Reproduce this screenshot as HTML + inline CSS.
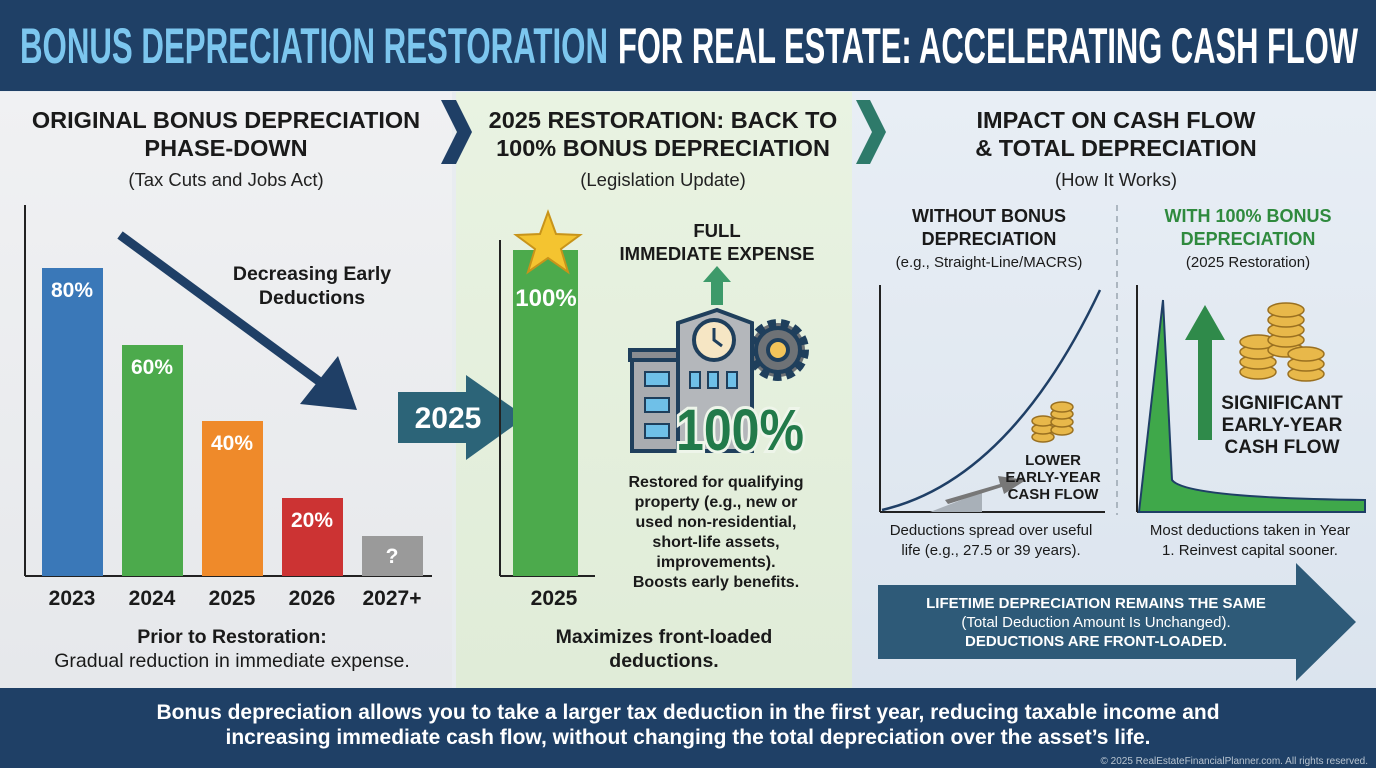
<!DOCTYPE html>
<html><head><meta charset="utf-8"><style>
html,body{margin:0;padding:0;width:1376px;height:768px;overflow:hidden;background:#fff}
svg{display:block;font-family:"Liberation Sans",sans-serif}
</style></head><body>
<svg width="1376" height="768" viewBox="0 0 1376 768" xmlns="http://www.w3.org/2000/svg">
<defs>
<linearGradient id="p1" x1="0" y1="0" x2="0" y2="1"><stop offset="0" stop-color="#f0f1f3"/><stop offset="1" stop-color="#e6e8eb"/></linearGradient>
<linearGradient id="p2" x1="0" y1="0" x2="0" y2="1"><stop offset="0" stop-color="#e9f3e2"/><stop offset="1" stop-color="#e0ecd8"/></linearGradient>
<linearGradient id="p3" x1="0" y1="0" x2="0" y2="1"><stop offset="0" stop-color="#e8eef5"/><stop offset="1" stop-color="#dbe4ee"/></linearGradient>
</defs>
<rect x="0" y="0" width="1376" height="768" fill="#e8ecf0"/>
<rect x="0" y="92" width="452" height="596" fill="url(#p1)"/>
<rect x="456" y="92" width="396" height="596" fill="url(#p2)"/>
<rect x="852" y="92" width="524" height="596" fill="url(#p3)"/>
<!-- header -->
<rect x="0" y="0" width="1376" height="91" fill="#1f4066"/>
<text x="20" y="63" font-size="50" font-weight="bold" fill="#7cc6ee" textLength="588" lengthAdjust="spacingAndGlyphs">BONUS DEPRECIATION RESTORATION</text>
<text x="618" y="63" font-size="50" font-weight="bold" fill="#ffffff" textLength="740" lengthAdjust="spacingAndGlyphs">FOR REAL ESTATE: ACCELERATING CASH FLOW</text>

<!-- panel 1 -->
<g font-weight="bold" fill="#1a1a1a" text-anchor="middle" font-size="23.5">
<text x="226" y="128">ORIGINAL BONUS DEPRECIATION</text>
<text x="226" y="156">PHASE-DOWN</text>
</g>
<text x="226" y="186" text-anchor="middle" font-size="18.5" fill="#222">(Tax Cuts and Jobs Act)</text>
<line x1="25" y1="205" x2="25" y2="576" stroke="#222" stroke-width="2"/>
<line x1="25" y1="576" x2="432" y2="576" stroke="#222" stroke-width="2"/>
<rect x="42" y="268" width="61" height="308" fill="#3a78b8"/>
<rect x="122" y="345" width="61" height="231" fill="#4caa4c"/>
<rect x="202" y="421" width="61" height="155" fill="#ef8a2a"/>
<rect x="282" y="498" width="61" height="78" fill="#cc3333"/>
<rect x="362" y="536" width="61" height="40" fill="#9a9a9a"/>
<g fill="#fff" font-weight="bold" font-size="21" text-anchor="middle">
<text x="72" y="297">80%</text><text x="152" y="374">60%</text><text x="232" y="450">40%</text><text x="312" y="527">20%</text><text x="392" y="563">?</text>
</g>
<g fill="#1a1a1a" font-weight="bold" font-size="21" text-anchor="middle">
<text x="72" y="605">2023</text><text x="152" y="605">2024</text><text x="232" y="605">2025</text><text x="312" y="605">2026</text><text x="392" y="605">2027+</text>
</g>
<line x1="120" y1="235" x2="320" y2="382" stroke="#1f3f66" stroke-width="9"/>
<polygon points="300,404 357,410 338,356" fill="#1f3f66"/>
<g font-weight="bold" font-size="19.5" fill="#1a1a1a" text-anchor="middle">
<text x="312" y="280">Decreasing Early</text><text x="312" y="304">Deductions</text>
</g>
<text x="232" y="643" text-anchor="middle" font-weight="bold" font-size="19.5" fill="#1a1a1a">Prior to Restoration:</text>
<text x="232" y="667" text-anchor="middle" font-size="19.5" fill="#1a1a1a">Gradual reduction in immediate expense.</text>

<!-- chevrons -->
<polygon points="441,100 456,100 472,132 456,164 441,164 457,132" fill="#1f3f66"/>
<polygon points="856,100 870,100 886,132 870,164 856,164 872,132" fill="#2e7a6a"/>
<!-- 2025 arrow -->
<polygon points="398,392 466,392 466,375 526,417 466,460 466,443 398,443" fill="#2c6478"/>
<text x="448" y="428" text-anchor="middle" font-weight="bold" font-size="30" fill="#fff">2025</text>

<!-- panel 2 -->
<g font-weight="bold" fill="#1a1a1a" text-anchor="middle" font-size="23.5">
<text x="663" y="128">2025 RESTORATION: BACK TO</text>
<text x="663" y="156">100% BONUS DEPRECIATION</text>
</g>
<text x="663" y="186" text-anchor="middle" font-size="18.5" fill="#222">(Legislation Update)</text>
<line x1="500" y1="240" x2="500" y2="576" stroke="#222" stroke-width="2"/>
<line x1="500" y1="576" x2="595" y2="576" stroke="#222" stroke-width="2"/>
<rect x="513" y="250" width="65" height="326" fill="#4caa4c"/>
<polygon points="548,212 556,234 580,235 561,249 568,272 548,258 528,272 535,249 516,235 540,234" fill="#f4c430" stroke="#c8941a" stroke-width="2"/>
<text x="546" y="306" text-anchor="middle" font-weight="bold" font-size="24" fill="#fff">100%</text>
<text x="554" y="605" text-anchor="middle" font-weight="bold" font-size="21" fill="#1a1a1a">2025</text>
<g font-weight="bold" font-size="18.5" fill="#1a1a1a" text-anchor="middle">
<text x="717" y="237">FULL</text><text x="717" y="260">IMMEDIATE EXPENSE</text>
</g>
<polygon points="717,266 731,282 723,282 723,305 711,305 711,282 703,282" fill="#3d9a6a"/>
<!-- building -->
<g stroke="#1f3f5c" stroke-width="4">
<circle cx="778" cy="350" r="27" fill="#6e7276" stroke-dasharray="8,5" stroke-width="8"/>
<circle cx="778" cy="350" r="22" fill="#6e7276"/>
<rect x="632" y="353" width="50" height="98" fill="#a9acb0"/>
<rect x="630" y="350" width="52" height="10" fill="#8a8d91"/>
<polygon points="678,451 678,323 717,310 752,323 752,451" fill="#b4b7bb"/>
<circle cx="778" cy="350" r="10" fill="#f2c45a"/>
<circle cx="714" cy="340" r="20" fill="#f6e6c4"/>
</g>
<g fill="#6fc0e8" stroke="#1f3f5c" stroke-width="2">
<rect x="645" y="372" width="24" height="14"/><rect x="645" y="398" width="24" height="14"/><rect x="645" y="424" width="24" height="14"/>
<rect x="690" y="372" width="10" height="16"/><rect x="708" y="372" width="10" height="16"/><rect x="727" y="372" width="10" height="16"/>
</g>
<path d="M714,328 L714,340 L722,346" stroke="#1f3f5c" stroke-width="3" fill="none"/>
<text x="740" y="450" text-anchor="middle" font-weight="bold" font-size="58" fill="#227a4a" stroke="#eef5ea" stroke-width="6" paint-order="stroke" textLength="128" lengthAdjust="spacingAndGlyphs">100%</text>
<g font-weight="bold" font-size="16" fill="#1a1a1a" text-anchor="middle">
<text x="716" y="487">Restored for qualifying</text>
<text x="716" y="507">property (e.g., new or</text>
<text x="716" y="527">used non-residential,</text>
<text x="716" y="547">short-life assets,</text>
<text x="716" y="567">improvements).</text>
<text x="716" y="587">Boosts early benefits.</text>
</g>
<g font-weight="bold" font-size="19.5" fill="#1a1a1a" text-anchor="middle">
<text x="664" y="643">Maximizes front-loaded</text><text x="664" y="667">deductions.</text>
</g>

<!-- panel 3 -->
<g font-weight="bold" fill="#1a1a1a" text-anchor="middle" font-size="23.5">
<text x="1116" y="128">IMPACT ON CASH FLOW</text>
<text x="1116" y="156">&amp; TOTAL DEPRECIATION</text>
</g>
<text x="1116" y="186" text-anchor="middle" font-size="18.5" fill="#222">(How It Works)</text>
<line x1="1117" y1="205" x2="1117" y2="515" stroke="#9aa5b0" stroke-width="1.5" stroke-dasharray="6,5"/>
<g font-weight="bold" font-size="18" fill="#1a1a1a" text-anchor="middle">
<text x="989" y="222">WITHOUT BONUS</text><text x="989" y="245">DEPRECIATION</text>
</g>
<text x="989" y="267" text-anchor="middle" font-size="15" fill="#1a1a1a">(e.g., Straight-Line/MACRS)</text>
<line x1="880" y1="285" x2="880" y2="512" stroke="#222" stroke-width="2"/>
<line x1="880" y1="512" x2="1105" y2="512" stroke="#222" stroke-width="2"/>
<path d="M882,510 Q1010,480 1100,290" stroke="#1f3f66" stroke-width="2.5" fill="none"/>
<polygon points="930,512 982,492 982,512" fill="#a8b0b8"/>
<polygon points="945,500 1000,484 998,476 1026,480 1004,494 1002,487 948,504" fill="#777"/>
<g fill="#e8b84a" stroke="#9a7020" stroke-width="1.5">
<ellipse cx="1043" cy="437" rx="11" ry="5"/><ellipse cx="1043" cy="429" rx="11" ry="5"/><ellipse cx="1043" cy="421" rx="11" ry="5"/>
<ellipse cx="1062" cy="430" rx="11" ry="5"/><ellipse cx="1062" cy="422" rx="11" ry="5"/><ellipse cx="1062" cy="414" rx="11" ry="5"/><ellipse cx="1062" cy="407" rx="11" ry="5"/>
</g>
<g font-weight="bold" font-size="15" fill="#1a1a1a" text-anchor="middle">
<text x="1053" y="465">LOWER</text><text x="1053" y="482">EARLY-YEAR</text><text x="1053" y="499">CASH FLOW</text>
</g>
<g font-size="15" fill="#1a1a1a" text-anchor="middle">
<text x="991" y="535">Deductions spread over useful</text><text x="991" y="555">life (e.g., 27.5 or 39 years).</text>
</g>
<g font-weight="bold" font-size="18" fill="#2f8a3e" text-anchor="middle">
<text x="1248" y="222">WITH 100% BONUS</text><text x="1248" y="245">DEPRECIATION</text>
</g>
<text x="1248" y="267" text-anchor="middle" font-size="15" fill="#1a1a1a">(2025 Restoration)</text>
<line x1="1137" y1="285" x2="1137" y2="512" stroke="#222" stroke-width="2"/>
<line x1="1137" y1="512" x2="1365" y2="512" stroke="#222" stroke-width="2"/>
<path d="M1139,512 L1163,300 L1172,480 Q1185,498 1365,500 L1365,512 Z" fill="#3fa84a" stroke="#1f3f66" stroke-width="2"/>
<polygon points="1205,305 1225,340 1212,340 1212,440 1198,440 1198,340 1185,340" fill="#2f8a4a"/>
<g fill="#e8b84a" stroke="#9a7020" stroke-width="1.5">
<ellipse cx="1258" cy="372" rx="18" ry="7"/><ellipse cx="1258" cy="362" rx="18" ry="7"/><ellipse cx="1258" cy="352" rx="18" ry="7"/><ellipse cx="1258" cy="342" rx="18" ry="7"/>
<ellipse cx="1286" cy="350" rx="18" ry="7"/><ellipse cx="1286" cy="340" rx="18" ry="7"/><ellipse cx="1286" cy="330" rx="18" ry="7"/><ellipse cx="1286" cy="320" rx="18" ry="7"/><ellipse cx="1286" cy="310" rx="18" ry="7"/>
<ellipse cx="1306" cy="374" rx="18" ry="7"/><ellipse cx="1306" cy="364" rx="18" ry="7"/><ellipse cx="1306" cy="354" rx="18" ry="7"/>
</g>
<g font-weight="bold" font-size="19" fill="#1a1a1a" text-anchor="middle">
<text x="1282" y="409">SIGNIFICANT</text><text x="1282" y="431">EARLY-YEAR</text><text x="1282" y="453">CASH FLOW</text>
</g>
<g font-size="15" fill="#1a1a1a" text-anchor="middle">
<text x="1250" y="535">Most deductions taken in Year</text><text x="1250" y="555">1. Reinvest capital sooner.</text>
</g>
<polygon points="878,585 1296,585 1296,563 1356,622 1296,681 1296,659 878,659" fill="#2e5a78"/>
<g fill="#fff" font-size="15" text-anchor="middle">
<text x="1096" y="608" font-weight="bold">LIFETIME DEPRECIATION REMAINS THE SAME</text>
<text x="1096" y="627">(Total Deduction Amount Is Unchanged).</text>
<text x="1096" y="646" font-weight="bold">DEDUCTIONS ARE FRONT-LOADED.</text>
</g>

<!-- footer -->
<rect x="0" y="688" width="1376" height="80" fill="#1f4066"/>
<g fill="#fff" font-weight="bold" font-size="21" text-anchor="middle">
<text x="688" y="719">Bonus depreciation allows you to take a larger tax deduction in the first year, reducing taxable income and</text>
<text x="688" y="744">increasing immediate cash flow, without changing the total depreciation over the asset’s life.</text>
</g>
<text x="1368" y="764" text-anchor="end" font-size="10" fill="#b8c4d0">© 2025 RealEstateFinancialPlanner.com. All rights reserved.</text>
</svg>
</body></html>
